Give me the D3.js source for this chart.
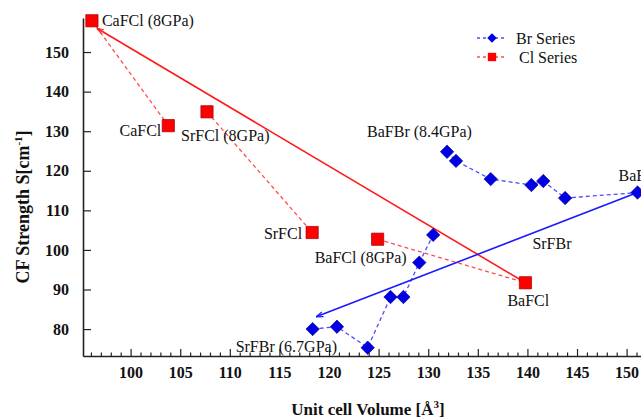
<!DOCTYPE html>
<html>
<head>
<meta charset="utf-8">
<script src="https://cdn.jsdelivr.net/npm/d3@7"></script>
<style>
  body { margin: 0; background: #fff; }
  svg { display: block; font-family: "Liberation Serif", "DejaVu Serif", serif; }
</style>
</head>
<body>
<svg id="chart" width="641" height="418"></svg>
<script>
// Cl series (red squares)
const clNames = ['CaFCl (8GPa)', 'CaFCl', 'SrFCl (8GPa)', 'SrFCl', 'BaFCl (8GPa)', 'BaFCl'];
const clVolume = [96.1, 103.8, 107.7, 118.3, 124.9, 139.8];
const clStrength = [157.9, 131.4, 134.9, 104.4, 102.7, 91.7];
const clGroups = [[0, 1], [2, 3], [4, 5]];

// Br series (blue diamonds)
const brVolume = [118.35, 120.8, 123.9, 126.2, 127.5, 129.1, 130.5, 131.9, 132.8, 136.3, 140.4, 141.6, 143.8, 151.1];
const brStrength = [80.0, 80.6, 75.3, 88.1, 88.1, 96.8, 103.8, 124.8, 122.5, 117.9, 116.4, 117.4, 113.1, 114.5];
const brGroups = [[0, 1, 2, 3, 4, 5, 6], [7, 8, 9, 10, 11, 12, 13]];

// trend lines (start, end)
const clFitVolume = [96.6, 139.8];
const clFitStrength = [156.0, 91.7];
const brFitVolume = [118.7, 151.1];
const brFitStrength = [83.1, 114.5];

const xMajorTicks = [100, 105, 110, 115, 120, 125, 130, 135, 140, 145, 150];
const yMajorTicks = [80, 90, 100, 110, 120, 130, 140, 150];

// label text, series, point index, pixel offset, anchor
const labels = [
  {text: 'CaFCl (8GPa)', s: 'cl', i: 0, dx: 10, dy: 0, anchor: 'start'},
  {text: 'CaFCl', s: 'cl', i: 1, dx: -7, dy: 5, anchor: 'end'},
  {text: 'SrFCl (8GPa)', s: 'cl', i: 2, dx: -26, dy: 24, anchor: 'start'},
  {text: 'SrFCl', s: 'cl', i: 3, dx: -10, dy: 1, anchor: 'end'},
  {text: 'BaFCl (8GPa)', s: 'cl', i: 4, dx: 29, dy: 18, anchor: 'end'},
  {text: 'BaFCl', s: 'cl', i: 5, dx: -18, dy: 18, anchor: 'start'},
  {text: 'SrFBr (6.7GPa)', s: 'br', i: 0, dx: -77, dy: 17, anchor: 'start'},
  {text: 'BaFBr (8.4GPa)', s: 'br', i: 7, dx: -80, dy: -20, anchor: 'start'},
  {text: 'BaFBr', s: 'br', i: 13, dx: -19, dy: -17, anchor: 'start'}
];
const freeLabels = [{text: 'SrFBr', x: 140.5, y: 101.7}];

const svg = d3.select('#chart');

const x = d3.scaleLinear().domain([95.2, 151.5]).range([83, 641.5]);
const y = d3.scaleLinear().domain([73.2, 158.6]).range([356, 18]);

const red = '#ff1a1a', blue = '#1a1aff';

const defs = svg.append('defs');
[['arrowRed', red], ['arrowBlue', blue]].forEach(([id, c]) => {
  defs.append('marker')
      .attr('id', id)
      .attr('viewBox', '0 -5 10 10')
      .attr('refX', 10).attr('refY', 0)
      .attr('markerWidth', 7).attr('markerHeight', 7)
      .attr('markerUnits', 'userSpaceOnUse')
      .attr('orient', 'auto-start-reverse')
    .append('path')
      .attr('d', 'M0,-3.5L10,0L0,3.5')
      .attr('fill', 'none')
      .attr('stroke', c)
      .attr('stroke-width', 1.6);
});

// axes
const xAxis = svg.append('g')
    .attr('transform', `translate(0,${y.range()[0]})`)
    .call(d3.axisBottom(x).tickValues(xMajorTicks).tickSizeInner(-7).tickSizeOuter(0).tickPadding(11));

const minor = d3.range(96, 152).filter(v => v % 5 !== 0);
svg.append('g')
    .attr('transform', `translate(0,${y.range()[0]})`)
    .call(d3.axisBottom(x).tickValues(minor).tickSizeInner(-3.5).tickSizeOuter(0).tickFormat(''))
    .call(g => g.select('.domain').remove());

const yAxis = svg.append('g')
    .attr('transform', `translate(${x.range()[0]},0)`)
    .call(d3.axisLeft(y).tickValues(yMajorTicks).tickSizeInner(-8).tickSizeOuter(0).tickPadding(14));

svg.selectAll('.domain').attr('stroke', '#222').attr('stroke-width', 1.6);
svg.selectAll('.tick line').attr('stroke', '#222').attr('stroke-width', 1.2);
[xAxis, yAxis].forEach(g => g.selectAll('.tick text')
    .attr('font-family', '"Liberation Serif", serif')
    .attr('font-size', 16)
    .attr('font-weight', 'bold')
    .attr('fill', '#111'));

// axis titles
const yTitle = svg.append('text')
    .attr('transform', 'translate(29,207) rotate(-90)')
    .attr('text-anchor', 'middle')
    .attr('font-size', 18).attr('font-weight', 'bold').attr('fill', '#111');
yTitle.append('tspan').text('CF Strength S[cm');
yTitle.append('tspan').attr('dy', -7).attr('font-size', 11).text('-1');
yTitle.append('tspan').attr('dy', 7).text(']');

const xTitle = svg.append('text')
    .attr('x', 368).attr('y', 415)
    .attr('text-anchor', 'middle')
    .attr('font-size', 17).attr('font-weight', 'bold').attr('fill', '#111');
xTitle.append('tspan').text('Unit cell Volume [Å');
xTitle.append('tspan').attr('dy', -7).attr('font-size', 11).text('3');
xTitle.append('tspan').attr('dy', 7).text(']');

const line = d3.line().x(d => x(d[0])).y(d => y(d[1]));

// dashed connections
svg.append('g').selectAll('path')
  .data(clGroups)
  .join('path')
    .attr('d', g => line(g.map(i => [clVolume[i], clStrength[i]])))
    .attr('fill', 'none')
    .attr('stroke', '#ff4d4d')
    .attr('stroke-width', 1.3)
    .attr('stroke-dasharray', '4,3');

svg.append('g').selectAll('path')
  .data(brGroups)
  .join('path')
    .attr('d', g => line(g.map(i => [brVolume[i], brStrength[i]])))
    .attr('fill', 'none')
    .attr('stroke', '#4d4dff')
    .attr('stroke-width', 1.3)
    .attr('stroke-dasharray', '4,3');

// fit lines
svg.append('path')
    .attr('d', line(d3.zip(clFitVolume, clFitStrength)))
    .attr('fill', 'none').attr('stroke', red).attr('stroke-width', 1.6)
    .attr('marker-start', 'url(#arrowRed)');
svg.append('path')
    .attr('d', line(d3.zip(brFitVolume, brFitStrength)))
    .attr('fill', 'none').attr('stroke', blue).attr('stroke-width', 1.6)
    .attr('marker-start', 'url(#arrowBlue)');

// markers
const square = d3.symbol(d3.symbolSquare, 150);
const diamond = d3.symbol(d3.symbolSquare, 90);

svg.append('g').selectAll('path')
  .data(d3.zip(clVolume, clStrength))
  .join('path')
    .attr('transform', d => `translate(${x(d[0])},${y(d[1])})`)
    .attr('d', square)
    .attr('fill', '#ff0000')
    .attr('stroke', '#a00000')
    .attr('stroke-width', 0.7);

svg.append('g').selectAll('path')
  .data(d3.zip(brVolume, brStrength))
  .join('path')
    .attr('transform', d => `translate(${x(d[0])},${y(d[1])}) rotate(45)`)
    .attr('d', diamond)
    .attr('fill', '#0000e6')
    .attr('stroke', '#00008a')
    .attr('stroke-width', 0.6);

// point labels
const series = {cl: [clVolume, clStrength], br: [brVolume, brStrength]};
svg.append('g').selectAll('text')
  .data(labels)
  .join('text')
    .attr('x', d => x(series[d.s][0][d.i]) + d.dx)
    .attr('y', d => y(series[d.s][1][d.i]) + d.dy)
    .attr('dy', '0.35em')
    .attr('text-anchor', d => d.anchor)
    .attr('font-size', 16)
    .attr('fill', '#111')
    .text(d => d.text);

svg.append('g').selectAll('text')
  .data(freeLabels)
  .join('text')
    .attr('x', d => x(d.x))
    .attr('y', d => y(d.y))
    .attr('dy', '0.35em')
    .attr('font-size', 16)
    .attr('fill', '#111')
    .text(d => d.text);

// legend
const legend = svg.append('g').attr('transform', 'translate(477,38)');
const legendItems = [
  {name: 'Br Series', stroke: '#4d4dff', fill: '#0000e6', sym: d3.symbol(d3.symbolSquare, 45), rot: 45},
  {name: 'Cl Series', stroke: '#ff4d4d', fill: '#ff0000', sym: d3.symbol(d3.symbolSquare, 70), rot: 0}
];
const li = legend.selectAll('g')
  .data(legendItems)
  .join('g')
    .attr('transform', (d, i) => `translate(0,${i * 19})`);
li.append('line')
    .attr('x1', 0).attr('x2', 29)
    .attr('stroke', d => d.stroke)
    .attr('stroke-width', 1.3)
    .attr('stroke-dasharray', '3,3');
li.append('path')
    .attr('transform', d => `translate(15,0) rotate(${d.rot})`)
    .attr('d', d => d.sym())
    .attr('fill', d => d.fill);
li.append('text')
    .attr('x', (d, i) => i === 0 ? 39 : 42)
    .attr('dy', '0.35em')
    .attr('font-size', 16)
    .attr('fill', '#111')
    .text(d => d.name);
</script>
</body>
</html>
